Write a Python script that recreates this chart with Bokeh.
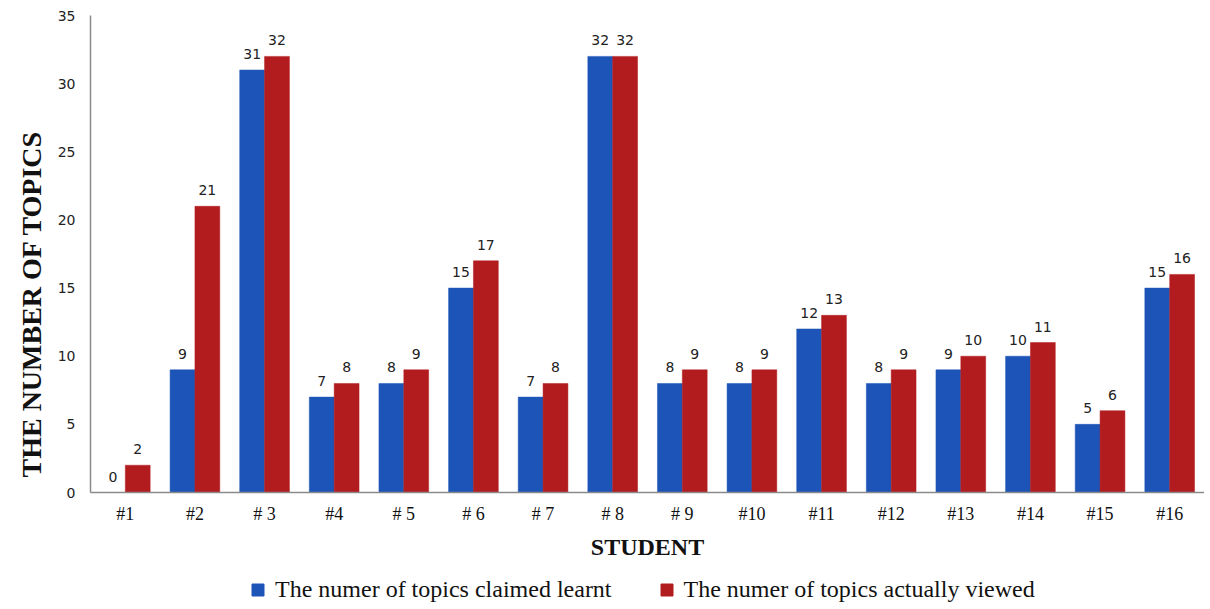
from bokeh.plotting import figure
from bokeh.layouts import column
from bokeh.models import (ColumnDataSource, FactorRange, Legend, LegendItem, LabelSet,
                          SingleIntervalTicker, Range1d, Title)
from bokeh.transform import dodge
from bokeh.core.properties import value
from bokeh.embed import file_html
from bokeh.resources import INLINE

students = ["#1", "#2", "# 3", "#4", "# 5", "# 6", "# 7", "# 8", "# 9", "#10",
            "#11", "#12", "#13", "#14", "#15", "#16"]
claimed = [0, 9, 31, 7, 8, 15, 7, 32, 8, 8, 12, 8, 9, 10, 5, 15]
viewed = [2, 21, 32, 8, 9, 17, 8, 32, 9, 9, 13, 9, 10, 11, 6, 16]
series_names = ["The numer of topics claimed learnt", "The numer of topics actually viewed"]
series_colors = ["#1c55b7", "#b31c1f"]

src = ColumnDataSource(dict(
    x=students, claimed=claimed, viewed=viewed,
    claimed_s=[str(v) for v in claimed], viewed_s=[str(v) for v in viewed],
))

xr = FactorRange(*students)
p = figure(x_range=xr, y_range=Range1d(0, 35),
           width=1204, height=572, output_backend="svg", toolbar_location=None,
           min_border_left=90, min_border_right=0, min_border_top=15, min_border_bottom=80)

bw = 0.357
off = 0.1785
r1 = p.vbar(x=dodge("x", -off, range=xr), top="claimed", width=bw, source=src,
            fill_color=series_colors[0], line_color=series_colors[0], line_width=0.5)
r2 = p.vbar(x=dodge("x", off, range=xr), top="viewed", width=bw, source=src,
            fill_color=series_colors[1], line_color=series_colors[1], line_width=0.5)

for col, txt, o in (("claimed", "claimed_s", -off), ("viewed", "viewed_s", off)):
    p.add_layout(LabelSet(x=dodge("x", o, range=xr), y=col, text=txt, source=src,
                          text_align="center", text_baseline="middle", y_offset=16,
                          text_font=value("DejaVu Sans"), text_font_size=value("14px"),
                          text_color="#222222"))

p.grid.visible = False
p.outline_line_color = None
p.background_fill_color = "white"

yax = p.yaxis[0]
yax.ticker = SingleIntervalTicker(interval=5)
yax.major_label_text_font = "DejaVu Sans"
yax.major_label_text_font_size = "14px"
yax.major_label_text_color = "#222222"
yax.major_label_standoff = 9
yax.major_tick_line_color = None
yax.minor_tick_line_color = None
yax.axis_line_color = "#8a8a8a"
yax.axis_line_width = 1.5

p.add_layout(Title(text="THE NUMBER OF TOPICS", align="left", offset=15,
                   text_font="Liberation Serif", text_font_style="bold",
                   text_font_size="28px", text_color="#111111", standoff=15), "left")

xax = p.xaxis[0]
xax.axis_label = "STUDENT"
xax.axis_label_text_font = "Liberation Serif"
xax.axis_label_text_font_style = "bold"
xax.axis_label_text_font_size = "24px"
xax.axis_label_text_color = "#111111"
xax.axis_label_standoff = 7
xax.major_label_text_font = "Liberation Serif"
xax.major_label_text_font_size = "18px"
xax.major_label_text_color = "#111111"
xax.major_label_standoff = 5
xax.major_tick_line_color = None
xax.axis_line_color = "#8a8a8a"
xax.axis_line_width = 1.5

# legend strip below the chart (same data, bars kept out of its visible y window)
lf = figure(width=1204, height=32, output_backend="svg", toolbar_location=None,
            x_range=xr, y_range=Range1d(100, 101),
            x_axis_location=None, y_axis_location=None, min_border=0)
lf.grid.visible = False
lf.outline_line_color = None
l1 = lf.vbar(x="x", top="claimed", width=bw, source=src,
             fill_color=series_colors[0], line_color=series_colors[0])
l2 = lf.vbar(x="x", top="viewed", width=bw, source=src,
             fill_color=series_colors[1], line_color=series_colors[1])
legend = Legend(items=[LegendItem(label=series_names[0], renderers=[l1]),
                       LegendItem(label=series_names[1], renderers=[l2])],
                orientation="horizontal", location=(160, 1),
                glyph_width=15, glyph_height=15, label_standoff=10, spacing=47,
                padding=0, margin=0, border_line_alpha=0, background_fill_alpha=0,
                label_text_font="Liberation Serif", label_text_font_size="24px",
                label_text_color="#111111")
lf.add_layout(legend, "center")

layout = column(p, lf, spacing=0)
open("out.html", "w").write(file_html(layout, INLINE))
